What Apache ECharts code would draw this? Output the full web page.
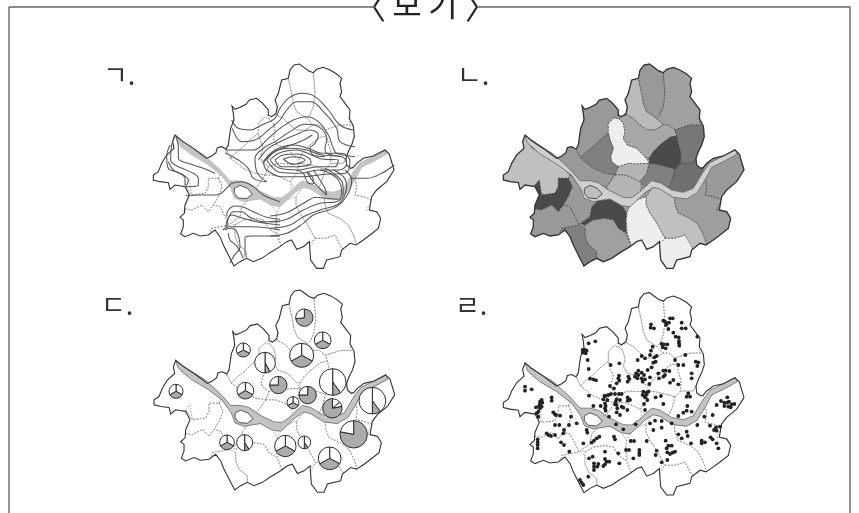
<!DOCTYPE html>
<html><head><meta charset="utf-8">
<style>html,body{margin:0;padding:0;background:#fff}#c{width:859px;height:513px}</style>
<script src="https://cdn.jsdelivr.net/npm/echarts@6/dist/echarts.min.js"></script></head>
<body><div id="c"></div>
<script>
const panelLabels=['ㄱ.','ㄴ.','ㄷ.','ㄹ.'];
const headingChars=['〈','보','기','〉'];
// map geometry (map units = 1/3 px)
const outline=[[200,325],[215,318],[228,308],[232,293],[245,290],[258,297],[265,285],[268,262],[272,235],[282,210],[280,190],[276,168],[285,178],[300,172],[318,163],[328,150],[350,145],[368,160],[385,180],[385,195],[395,200],[408,190],[412,170],[405,150],[415,130],[420,110],[425,90],[445,85],[450,60],[462,45],[478,42],[492,52],[505,62],[520,68],[530,58],[550,52],[570,60],[590,72],[605,85],[600,100],[605,125],[600,140],[615,160],[630,180],[628,205],[640,228],[643,260],[635,285],[625,305],[618,325],[620,345],[632,355],[640,352],[650,340],[670,325],[700,318],[735,300],[748,312],[762,360],[740,395],[710,420],[695,440],[688,480],[710,485],[722,505],[715,535],[690,555],[670,570],[648,585],[630,580],[605,600],[600,620],[560,630],[550,655],[530,655],[512,630],[508,575],[490,590],[470,598],[455,570],[440,575],[420,590],[390,608],[365,625],[340,635],[320,625],[300,635],[282,648],[270,625],[250,585],[240,560],[225,540],[205,555],[180,558],[160,550],[135,560],[122,552],[130,530],[130,510],[120,502],[133,490],[135,465],[148,435],[135,410],[105,405],[90,418],[85,398],[60,395],[40,390],[40,375],[55,365],[65,340],[80,315],[102,295],[98,275],[105,255],[125,272],[160,295]];
const river=[[105,255],[145,285],[190,312],[240,358],[270,392],[300,392],[325,398],[355,420],[400,442],[425,443],[450,425],[485,392],[510,398],[545,420],[580,427],[610,415],[638,368],[660,338],[700,318],[735,298],[742,312],[700,335],[665,352],[648,385],[622,428],[590,447],[550,442],[510,417],[490,412],[465,428],[440,452],[420,470],[395,467],[360,447],[340,450],[310,455],[283,445],[272,415],[245,376],[200,342],[150,312],[112,278]];
const island=[[283,415],[300,406],[322,415],[337,432],[320,446],[295,444],[283,430]];
const districts=[
 [[425,90],[445,85],[455,130],[460,160],[470,185],[500,205],[520,225],[495,240],[470,240],[450,225],[430,205],[410,195],[412,170],[405,150],[415,130],[420,110]],
 [[445,85],[450,60],[462,45],[478,42],[492,52],[505,62],[520,68],[525,130],[520,170],[510,195],[500,205],[470,185],[460,160],[455,130]],
 [[520,68],[530,58],[550,52],[570,60],[590,72],[605,85],[600,100],[605,125],[600,140],[615,160],[630,180],[628,205],[630,225],[600,225],[555,240],[535,225],[520,225],[500,205],[510,195],[520,170],[525,130]],
 [[276,168],[285,178],[300,172],[318,163],[328,150],[350,145],[368,160],[385,180],[385,195],[370,205],[355,220],[355,250],[330,270],[310,290],[285,310],[272,325],[258,297],[265,285],[268,262],[272,235],[282,210],[280,190]],
 [[355,220],[370,205],[385,205],[400,220],[405,245],[400,265],[412,285],[440,295],[465,320],[478,340],[440,342],[415,340],[385,350],[365,335],[362,320],[370,295],[360,270],[355,250]],
 [[385,205],[395,200],[410,195],[430,205],[450,225],[470,240],[495,240],[520,225],[535,225],[555,240],[560,258],[540,262],[510,285],[490,305],[478,325],[465,320],[440,295],[412,285],[400,265],[405,245],[400,220]],
 [[478,325],[490,305],[510,285],[540,262],[560,258],[565,280],[573,310],[572,340],[555,358],[530,350],[500,343],[478,340]],
 [[555,240],[600,225],[630,225],[640,228],[643,260],[635,285],[625,305],[618,325],[610,340],[572,340],[573,310],[565,280],[560,258]],
 [[272,325],[285,310],[310,290],[330,270],[355,250],[360,270],[370,295],[362,320],[365,335],[385,350],[375,375],[345,370],[310,355],[285,335]],
 [[200,325],[215,318],[228,308],[232,293],[245,290],[258,297],[272,325],[285,335],[310,355],[345,370],[375,375],[350,412],[325,400],[300,396],[270,398],[235,365]],
 [[385,350],[415,340],[440,342],[478,340],[470,370],[450,395],[430,385],[405,375],[375,375]],
 [[375,375],[405,375],[430,385],[450,395],[455,410],[450,430],[425,450],[400,450],[355,425],[350,412]],
 [[478,340],[500,343],[530,350],[555,358],[545,395],[535,415],[510,400],[485,395],[465,410],[450,395],[470,370]],
 [[555,358],[572,340],[610,340],[618,325],[620,345],[632,355],[640,352],[640,370],[610,420],[580,430],[545,425],[535,415],[545,395]],
 [[665,350],[700,335],[742,305],[775,340],[775,385],[750,415],[710,440],[695,450],[670,440],[645,435],[650,410],[645,385]],
 [[620,425],[645,385],[650,410],[645,435],[670,440],[695,450],[680,480],[730,490],[730,540],[690,565],[655,600],[640,555],[625,525],[600,505],[565,490],[555,465],[553,442],[590,445]],
 [[468,440],[490,410],[510,415],[550,440],[553,442],[555,465],[565,490],[600,505],[625,525],[640,555],[655,600],[620,600],[600,590],[585,555],[555,565],[525,565],[500,520],[480,490],[468,465]],
 [[420,468],[440,450],[468,440],[468,465],[480,490],[500,520],[525,565],[505,600],[490,605],[465,610],[450,585],[430,600],[420,575],[412,550],[408,510],[410,490]],
 [[525,565],[555,565],[585,555],[610,600],[610,630],[570,650],[550,670],[520,670],[500,635],[500,590]],
 [[360,445],[395,465],[410,490],[408,510],[408,550],[385,535],[370,510],[345,505],[310,510],[285,525],[272,520],[300,500],[305,470],[325,450]],
 [[285,525],[310,510],[345,505],[370,510],[385,535],[408,550],[415,570],[430,600],[395,625],[345,650],[320,640],[320,605],[295,585],[285,560]],
 [[215,535],[268,525],[285,535],[285,560],[295,585],[320,605],[320,640],[285,660],[260,630],[240,585],[225,560]],
 [[105,245],[85,275],[90,300],[55,340],[30,370],[30,400],[85,425],[110,415],[135,405],[155,435],[195,430],[205,410],[205,385],[235,385],[240,375],[205,340],[165,315],[125,295]],
 [[135,405],[148,390],[155,435],[195,430],[205,410],[205,385],[235,385],[247,410],[235,440],[220,465],[205,485],[185,465],[155,480],[125,475],[130,450],[148,435]],
 [[125,475],[155,480],[185,465],[205,485],[220,465],[240,470],[268,525],[215,535],[205,565],[135,570],[110,555],[110,495]],
 [[235,385],[240,375],[275,405],[285,435],[310,450],[335,440],[360,445],[325,450],[305,470],[300,500],[272,520],[268,525],[240,470],[220,465],[235,440],[247,410]]
];
const districtValues=[187,153,160,153,238,168,74,119,128,153,180,180,128,112,154,158,192,238,238,74,160,128,192,74,153,154];
const contoursNorth=[
 [[175,222],[205,215],[240,225],[205,238],[175,222]],
 [[150,225],[175,210],[215,207],[255,222],[258,235],[215,245],[170,245],[150,225]],
 [[135,225],[165,203],[215,195],[260,210],[290,222],[340,225],[330,245],[280,245],[220,255],[165,250],[135,225]],
 [[125,225],[155,197],[205,190],[245,195],[290,210],[350,215],[365,235],[345,255],[280,255],[225,265],[165,262],[125,225]],
 [[115,230],[150,195],[205,180],[250,190],[290,205],[350,205],[375,230],[360,265],[300,268],[230,275],[170,275],[125,255],[115,230]],
 [[20,105],[40,130],[75,135],[110,120],[150,100],[165,70],[190,40],[230,25],[270,35],[310,75],[345,120],[385,135]],
 [[22,130],[50,170],[90,165],[130,135],[165,105],[185,75],[215,50],[255,50],[300,85],[335,130],[345,170],[390,185]],
 [[0,195],[45,195],[85,195],[130,160],[165,130],[205,105],[245,95],[280,110],[310,150],[325,190],[335,205],[390,215]],
 [[0,203],[40,225],[70,250],[85,280],[125,290],[95,260],[90,220],[115,190],[150,170],[195,140],[240,118],[280,125],[305,165],[300,190],[305,205],[350,215]],
 [[100,225],[130,190],[165,170],[210,150],[255,135],[280,150],[270,175],[255,190],[265,210],[300,215]],
 [[115,235],[140,205],[185,185],[230,168],[262,150]]
];
const contoursWest=[
 [[75,15],[65,45],[62,90],[75,105],[120,125],[145,145],[145,165],[110,170]],
 [[78,20],[85,50],[85,85],[115,100],[160,115],[195,130]],
 [[55,95],[70,120],[100,135],[115,150],[108,170]],
 [[60,45],[50,80],[55,115],[85,128],[105,145],[105,165]],
 [[108,197],[150,195],[200,195],[235,170],[245,160],[275,155],[310,170],[340,195],[390,215]],
 [[230,260],[235,240],[255,228],[280,232],[310,245],[350,262],[390,268]],
 [[230,290],[235,265],[250,245],[275,245],[300,262],[340,275],[390,275]],
 [[228,295],[232,270],[245,255],[270,262],[320,275],[390,285]],
 [[218,300],[238,290],[265,290],[305,290],[390,300]],
 [[225,300],[240,295],[260,305],[270,350],[250,380],[240,400]],
 [[285,380],[285,325],[300,318],[390,318]],
 [[235,310],[240,330],[262,350],[280,385]]
];
const contoursSouth=[
 [[0,168],[50,158],[100,130],[140,112],[165,115],[205,118],[215,90],[205,60],[180,40],[150,30]],
 [[0,185],[50,178],[100,150],[150,130],[200,125],[220,100],[218,70],[190,40],[165,25]],
 [[0,205],[60,195],[100,170],[150,150],[200,135],[220,115],[230,80],[220,50],[190,30]],
 [[0,228],[50,220],[100,190],[130,165],[200,140],[235,100],[245,60],[225,30]],
 [[110,35],[130,65],[170,105]],
 [[130,30],[150,60],[165,85],[170,105]],
 [[80,30],[100,40],[115,70],[130,72],[130,60],[110,35]],
 [[240,55],[290,55],[335,40],[372,15]]
];
const pieX=[493,548,310,485,375,415,578,316,108,503,459,577,697,641,261,314,436,493,569];
const pieY=[113,181,210,226,248,315,306,332,334,345,368,385,362,463,487,488,498,487,535];
const pieTotals=[26,25,21,36,31,26,40,25,21,26,18,29,40,41,22,24,32,19,34];
// shares clockwise from north: white, white, grey, white
const pieShares=[[0,0,73,27],[33,0,34,33],[33,0,34,33],[33,0,34,33],[42,0,8,50],[0,0,75,25],[40,0,10,50],[33,0,34,33],[33,0,34,33],[0,0,75,25],[33,0,34,33],[14,8,78,0],[40,0,10,50],[0,0,78,22],[33,0,34,33],[41,0,9,50],[33,0,34,33],[41,0,9,50],[33,0,34,33]];
const stations=[[483,133],[482,143],[492,145],[520,122],[525,125],[530,130],[528,135],[540,115],[548,115],[537,128],[535,147],[575,128],[575,145],[587,145],[550,158],[557,170],[566,172],[567,183],[567,190],[568,197],[622,170],[515,192],[522,193],[532,193],[518,202],[527,205],[316,184],[296,190],[278,210],[285,210],[290,212],[278,218],[287,220],[293,240],[296,267],[362,255],[388,250],[300,296],[310,298],[318,301],[455,228],[465,235],[443,240],[488,200],[483,212],[480,225],[493,232],[500,228],[490,248],[497,245],[485,262],[473,270],[445,272],[438,280],[445,285],[435,290],[442,295],[455,278],[462,285],[455,295],[465,298],[458,305],[480,292],[505,280],[520,272],[527,272],[538,273],[507,295],[525,285],[520,290],[540,308],[550,300],[555,240],[580,255],[565,255],[586,225],[617,245],[625,247],[622,258],[605,280],[605,295],[565,313],[387,287],[385,295],[388,302],[415,290],[418,297],[413,305],[380,310],[372,325],[360,318],[355,345],[347,348],[343,348],[340,358],[352,360],[363,342],[375,342],[387,342],[395,342],[380,358],[377,365],[375,372],[390,360],[413,352],[418,358],[413,362],[420,360],[297,347],[332,378],[345,370],[347,378],[345,385],[347,392],[380,375],[382,385],[395,380],[400,383],[412,390],[380,397],[390,405],[357,410],[378,433],[400,448],[437,433],[460,335],[470,338],[458,345],[468,345],[475,335],[465,352],[472,360],[497,352],[513,348],[478,312],[465,390],[462,372],[520,372],[595,340],[590,350],[600,350],[592,378],[590,392],[580,398],[565,408],[605,395],[310,378],[712,352],[693,363],[703,368],[712,368],[717,365],[725,373],[733,372],[680,375],[703,378],[715,380],[722,382],[668,405],[643,410],[622,435],[660,437],[678,442],[672,450],[680,452],[690,440],[662,472],[668,478],[635,482],[635,490],[645,487],[680,490],[685,505],[105,320],[105,332],[125,328],[185,352],[185,362],[155,360],[150,365],[157,368],[150,372],[147,378],[155,380],[138,382],[150,385],[145,395],[140,400],[145,410],[190,397],[195,403],[210,407],[198,405],[243,410],[237,435],[260,430],[195,435],[208,435],[222,450],[220,460],[170,460],[175,465],[183,468],[195,465],[143,478],[143,487],[143,495],[143,505],[213,487],[222,495],[238,515],[290,450],[292,458],[328,470],[320,475],[312,482],[305,488],[280,490],[372,470],[375,478],[422,483],[432,483],[470,483],[385,520],[408,510],[417,510],[448,510],[448,518],[448,525],[430,535],[388,550],[345,515],[308,530],[297,535],[345,537],[350,545],[358,545],[345,553],[340,558],[312,550],[325,552],[312,560],[322,560],[312,570],[295,590],[270,600],[275,608],[280,615],[480,430],[495,422],[515,423],[515,443],[490,450],[545,430],[565,463],[590,455],[593,468],[575,475],[527,482],[535,497],[545,497],[530,505],[532,517],[540,522],[548,518],[555,515],[500,512],[497,525],[515,547],[532,540],[603,490]];

const panels=[{ox:140,oy:50,sy:1/3},{ox:490,oy:50,sy:1/3},{ox:140.7,oy:276.1,sy:.33},{ox:490,oy:278.8,sy:.33}];
const place=(p,pts)=>pts.map(q=>[p.ox+q[0]/3,p.oy+q[1]*p.sy]);
const gray=v=>`rgb(${v},${v},${v})`;
const fromCrop=(du,dv,list)=>list.map(c=>c.map(q=>[q[0]+du,q[1]+dv]));
const contours=[...fromCrop(255,105,contoursNorth),...fromCrop(30,240,contoursWest),...fromCrop(390,330,contoursSouth)];

const shapes=[];
const add=(pts,fill,stroke,w,dash,clip)=>shapes.push({pts,fill,stroke,w,dash,clip});
panels.forEach((p,i)=>{
  const edge=place(p,outline);
  if(i===1) add(edge,gray(153),null,0);
  districts.forEach((d,k)=>{
    add(place(p,d), i===1?gray(districtValues[k]):null, i===1?'#444':'#888', .8,[1.6,1.6],edge);
  });
  add(place(p,river), i===1?'#cfcfcf':'#c4c4c4', i===0?'#bbb':'#666', i===0?.5:.8);
  add(place(p,island), i===1?'#bdbdbd':'#fff', '#444', .9);
  add(edge, null, '#333', i===1?1.3:1.1);
});

const contourSeries=contours.map(c=>({type:'line',data:place(panels[0],c),smooth:.4,symbol:'none',silent:true,z:3,
  lineStyle:{color:'#555',width:1.05},animation:false}));

const frame=[[[9,513],[9,7],[375,7]],[[477,7],[850,7],[850,513]]].map(f=>({type:'line',data:f,symbol:'none',silent:true,z:1,
  lineStyle:{color:'#666',width:1.4},animation:false}));

const pieData=pieX.map((x,i)=>[140+x/3,280+pieY[i]/3,pieTotals[i]/3,...pieShares[i]]);
const headX=[370,407,443,481], labelX=[103,457,101,455], labelY=[75,75,305,305];

const chart=echarts.init(document.getElementById('c'),null,{renderer:'canvas'});
chart.setOption({
  animation:false,backgroundColor:'#fff',
  grid:{left:0,right:0,top:0,bottom:0},
  xAxis:{type:'value',min:0,max:859,show:false},
  yAxis:{type:'value',min:0,max:513,inverse:true,show:false},
  graphic:[
    ...headingChars.map((t,i)=>({type:'text',x:headX[i],y:i%3?4:7,style:{text:t,font:'32px "Noto Sans CJK KR"',fill:'#222',textAlign:'center',textVerticalAlign:'middle'}})),
    ...panelLabels.map((t,i)=>({type:'text',x:labelX[i],y:labelY[i],style:{text:t,font:'27px "Noto Sans CJK KR"',fill:'#333',textVerticalAlign:'middle'}}))
  ],
  series:[
    ...frame,
    {type:'custom',z:2,silent:true,clip:false,data:shapes.map((s,i)=>[s.pts[0][0],s.pts[0][1],i]),
     renderItem(params,api){
       const s=shapes[api.value(2)];
       const el={type:'polygon',shape:{points:s.pts.map(q=>api.coord(q))},
         style:{fill:s.fill||'none',stroke:s.stroke||'none',lineWidth:s.w,lineDash:s.dash||null}};
       if(s.clip) el.clipPath={type:'polygon',shape:{points:s.clip.map(q=>api.coord(q))}};
       return el;
     }},
    ...contourSeries,
    {type:'custom',z:4,silent:true,clip:false,data:pieData,
     renderItem(params,api){
       const c=api.coord([api.value(0),api.value(1)]);
       const r=api.size([api.value(2),0])[0];
       const sh=[api.value(3),api.value(4),api.value(5),api.value(6)];
       const tot=sh[0]+sh[1]+sh[2]+sh[3];
       let a=-Math.PI/2;const kids=[];
       sh.forEach((v,k)=>{
         if(v<=0)return;
         const b=a+v/tot*Math.PI*2;
         kids.push({type:'sector',shape:{cx:c[0],cy:c[1],r,r0:0,startAngle:a,endAngle:b},
           style:{fill:k===2?'#ababab':'#fff',stroke:'#2b2b2b',lineWidth:1}});
         a=b;
       });
       return {type:'group',children:kids};
     }},
    {type:'scatter',z:5,silent:true,symbol:'circle',symbolSize:3.8,data:stations.map(q=>[490+q[0]/3,280+q[1]/3]),
     itemStyle:{color:'#222',opacity:1},animation:false}
  ]
});
</script></body></html>
